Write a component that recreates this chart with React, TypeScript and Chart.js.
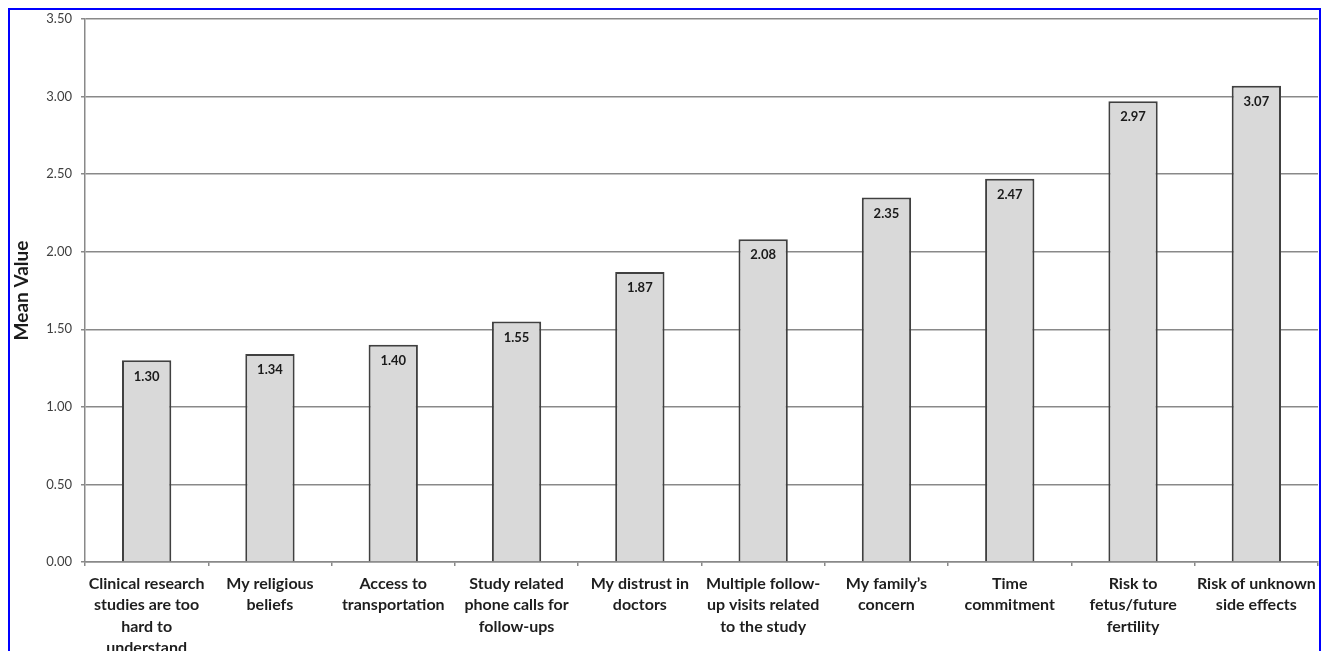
import React, { useEffect, useRef } from "react";
import { Chart, registerables } from "chart.js";

Chart.register(...registerables);

// Barriers to participation and their mean rating
const categories: string[][] = [
  ["Clinical research", "studies are too", "hard to", "understand"],
  ["My religious", "beliefs"],
  ["Access to", "transportation"],
  ["Study related", "phone calls for", "follow-ups"],
  ["My distrust in", "doctors"],
  ["Multiple follow-", "up visits related", "to the study"],
  ["My family\u2019s", "concern"],
  ["Time", "commitment"],
  ["Risk to", "fetus/future", "fertility"],
  ["Risk of unknown", "side effects"],
];
const meanValues: number[] = [1.3, 1.34, 1.4, 1.55, 1.87, 2.08, 2.35, 2.47, 2.97, 3.07];
const yMin = 0;
const yMax = 3.5;
const yStep = 0.5;

const FONT = "Lato, 'Open Sans', sans-serif";
const CANVAS_W = 1309;
const CANVAS_H = 660;
const AXIS_LEFT = 75;
const AXIS_BOTTOM = 552;

// Writes each bar's value just inside its top edge
const valueLabels = {
  id: "valueLabels",
  afterDatasetsDraw(chart: any) {
    const ctx = chart.ctx;
    const meta = chart.getDatasetMeta(0);
    ctx.save();
    ctx.font = `bold 13px ${FONT}`;
    ctx.fillStyle = "#1a1a1a";
    ctx.textAlign = "center";
    ctx.textBaseline = "middle";
    meta.data.forEach((bar: any, i: number) => {
      ctx.fillText(meanValues[i].toFixed(2), bar.x, bar.y + 16);
    });
    ctx.restore();
  },
};

export default function App() {
  const canvasRef = useRef<HTMLCanvasElement | null>(null);

  useEffect(() => {
    document.documentElement.style.overflow = "hidden";
    const canvas = canvasRef.current;
    if (!canvas) return;
    const chart = new Chart(canvas, {
      type: "bar",
      data: {
        labels: categories,
        datasets: [
          {
            data: meanValues,
            backgroundColor: "#d9d9d9",
            borderColor: "#404040",
            borderWidth: 2,
            barPercentage: 0.4,
            categoryPercentage: 1,
          },
        ],
      },
      options: {
        responsive: false,
        maintainAspectRatio: false,
        animation: false,
        layout: { padding: { top: 9, right: 1, bottom: 0, left: 0 } },
        plugins: {
          legend: { display: false },
          tooltip: { enabled: false },
          title: { display: false },
        },
        scales: {
          x: {
            grid: {
              display: true,
              drawOnChartArea: false,
              drawTicks: true,
              tickLength: 4,
              color: "#898989",
              lineWidth: 1.5,
              offset: true,
            },
            border: { display: true, color: "#898989", width: 1.5 },
            ticks: {
              autoSkip: false,
              maxRotation: 0,
              minRotation: 0,
              padding: 7,
              color: "#1e1e1e",
              font: { family: FONT, size: 16, weight: "bold", lineHeight: "21.5px" },
            },
            afterFit(scale: any) {
              scale.height = CANVAS_H - AXIS_BOTTOM;
              scale.paddingLeft = 0;
              scale.paddingRight = 0;
            },
          },
          y: {
            min: yMin,
            max: yMax,
            grid: {
              color: "#898989",
              lineWidth: 1.5,
              drawTicks: true,
              tickLength: 4,
            },
            border: { display: true, color: "#898989", width: 1.5 },
            ticks: {
              stepSize: yStep,
              padding: 9,
              color: "#404040",
              font: { family: FONT, size: 13, lineHeight: "16px" },
              callback: (v: any) => Number(v).toFixed(2),
            },
            title: {
              display: true,
              text: "Mean Value",
              color: "#1a1a1a",
              font: { family: FONT, size: 19, weight: "bold" },
              padding: { top: 0, bottom: 0 },
            },
            afterFit(scale: any) {
              scale.width = AXIS_LEFT;
              scale.paddingTop = 0;
              scale.paddingBottom = 0;
            },
          },
        },
      },
      plugins: [valueLabels],
    });
    return () => chart.destroy();
  }, []);

  return (
    <div
      style={{
        position: "fixed",
        left: 8,
        top: 8,
        width: CANVAS_W,
        height: CANVAS_H,
        border: "2px solid #0000ff",
        background: "#ffffff",
      }}
    >
      <canvas
        ref={canvasRef}
        width={CANVAS_W}
        height={CANVAS_H}
        style={{ display: "block", width: CANVAS_W, height: CANVAS_H }}
      />
    </div>
  );
}
